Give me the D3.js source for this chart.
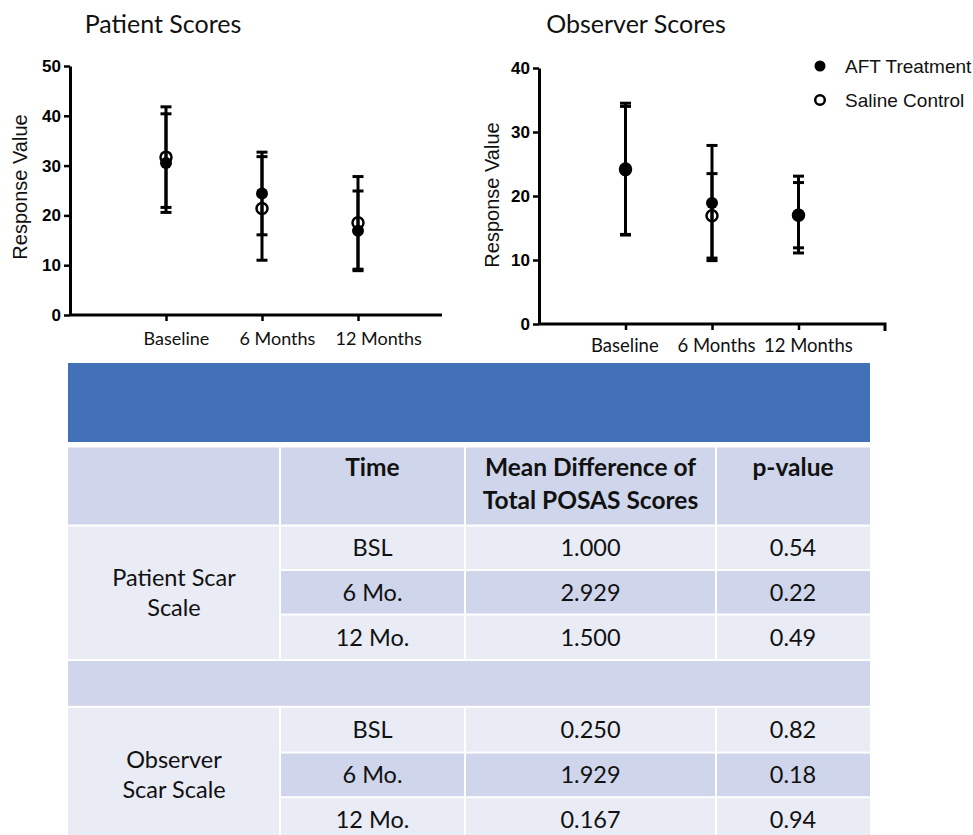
<!DOCTYPE html>
<html>
<head>
<meta charset="utf-8">
<script src="https://cdn.jsdelivr.net/npm/d3@7"></script>
<style>
  body { margin: 0; background: #fff; }
</style>
</head>
<body>
<svg id="fig" width="973" height="835"></svg>
<script>
// ---- Data ----
const timepoints = ["Baseline", "6 Months", "12 Months"];
const seriesNames = ["AFT Treatment", "Saline Control"];

const patientAftMean = [30.5, 24.4, 16.9];
const patientAftSd = [9.9, 8.3, 8.0];
const patientSalineMean = [31.7, 21.4, 18.5];
const patientSalineSd = [10.1, 10.4, 9.3];

const observerAftMean = [24.0, 18.9, 17.1];
const observerAftSd = [10.0, 9.0, 6.0];
const observerSalineMean = [24.2, 16.9, 17.0];
const observerSalineSd = [10.3, 6.6, 5.1];

const patientTicks = [0, 10, 20, 30, 40, 50];
const observerTicks = [0, 10, 20, 30, 40];

const tableHeaders = ["", "Time", "Mean Difference of\nTotal POSAS Scores", "p-value"];
const scaleGroups = ["Patient Scar\nScale", "Observer\nScar Scale"];
const timeLabels = ["BSL", "6 Mo.", "12 Mo."];
const patientMeanDiff = ["1.000", "2.929", "1.500"];
const patientPValues = ["0.54", "0.22", "0.49"];
const observerMeanDiff = ["0.250", "1.929", "0.167"];
const observerPValues = ["0.82", "0.18", "0.94"];

// ---- Setup ----
const svg = d3.select("#fig");
svg.append("rect").attr("width", 973).attr("height", 835).attr("fill", "#fff");

const LABEL_FONT = "Lato, 'Open Sans', sans-serif";
const AXIS_FONT = "'Liberation Sans', Arial, sans-serif";

function drawPanel(o) {
  const g = svg.append("g");
  const x = d3.scaleLinear().domain([0, o.xEnd]).range([o.left, o.right]);
  const y = d3.scaleLinear().domain([0, d3.max(o.ticks)]).range([o.bottom, o.top]);

  // Title
  g.append("text")
    .attr("x", o.titleX).attr("y", 33)
    .attr("text-anchor", "middle")
    .attr("font-family", LABEL_FONT).attr("font-size", 25)
    .attr("fill", "#111")
    .text(o.title);

  // Y axis
  const ya = g.append("g")
    .attr("transform", `translate(${o.left},0)`)
    .call(d3.axisLeft(y).tickValues(o.ticks).tickSize(6).tickSizeOuter(0).tickPadding(3));
  ya.select(".domain").attr("stroke", "#000").attr("stroke-width", 3);
  ya.selectAll(".tick line").attr("stroke", "#000").attr("stroke-width", 2.5);
  ya.selectAll(".tick text")
    .attr("font-family", AXIS_FONT).attr("font-weight", "bold")
    .attr("font-size", 17).attr("fill", "#000");

  // X axis
  const xa = g.append("g")
    .attr("transform", `translate(0,${o.bottom})`)
    .call(d3.axisBottom(x).tickValues(d3.range(1, timepoints.length + 1))
      .tickFormat((d, i) => timepoints[i]).tickSize(6).tickPadding(o.labelPad));
  xa.select(".domain").remove();
  xa.append("path")
    .attr("d", `M${o.left},0H${o.right}` + (o.endTick ? "V7" : ""))
    .attr("fill", "none").attr("stroke", "#000").attr("stroke-width", 3);
  xa.selectAll(".tick line").attr("stroke", "#000").attr("stroke-width", 2.5);
  xa.selectAll(".tick text")
    .attr("font-family", LABEL_FONT).attr("font-size", o.labelSize)
    .attr("text-anchor", "start")
    .attr("fill", "#111").attr("dx", o.labelDx);

  // Y axis title
  g.append("text")
    .attr("transform", `translate(${o.yTitleX},${o.yTitleY}) rotate(-90)`)
    .attr("text-anchor", "middle")
    .attr("font-family", AXIS_FONT).attr("font-size", 20)
    .attr("fill", "#111")
    .text("Response Value");

  // Error bars
  const series = o.series;
  const capHalf = 5.5;
  series.forEach(s => {
    const eb = g.append("g");
    s.mean.forEach((m, i) => {
      const cx = x(i + 1);
      eb.append("line")
        .attr("x1", cx).attr("x2", cx)
        .attr("y1", y(m - s.sd[i])).attr("y2", y(m + s.sd[i]))
        .attr("stroke", "#000").attr("stroke-width", 3);
      [m - s.sd[i], m + s.sd[i]].forEach(v => {
        eb.append("line")
          .attr("x1", cx - capHalf).attr("x2", cx + capHalf)
          .attr("y1", y(v)).attr("y2", y(v))
          .attr("stroke", "#000").attr("stroke-width", 3);
      });
    });
  });

  // Points: filled treatment, then hollow control
  series.forEach(s => {
    g.append("g").selectAll("circle")
      .data(s.mean)
      .join("circle")
      .attr("cx", (d, i) => x(i + 1))
      .attr("cy", d => y(d))
      .attr("r", s.filled ? 6 : 5.5)
      .attr("fill", s.filled ? "#000" : "none")
      .attr("stroke", "#000")
      .attr("stroke-width", s.filled ? 0 : 2.5);
  });
  return { x, y };
}

drawPanel({
  title: "Patient Scores", titleX: 163,
  left: 70, right: 442, xEnd: 3.875, endTick: false,
  top: 66, bottom: 315, ticks: patientTicks,
  labelDx: -23, labelPad: 11, labelSize: 18,
  yTitleX: 27, yTitleY: 187,
  series: [
    { mean: patientAftMean, sd: patientAftSd, filled: true },
    { mean: patientSalineMean, sd: patientSalineSd, filled: false }
  ]
});

drawPanel({
  title: "Observer Scores", titleX: 636,
  left: 539, right: 885, xEnd: 4, endTick: true,
  top: 68, bottom: 324, ticks: observerTicks,
  labelDx: -35, labelPad: 9, labelSize: 18.5,
  yTitleX: 499, yTitleY: 195,
  series: [
    { mean: observerAftMean, sd: observerAftSd, filled: true },
    { mean: observerSalineMean, sd: observerSalineSd, filled: false }
  ]
});

// Legend
const legend = svg.append("g").attr("transform", "translate(820,66)");
seriesNames.forEach((name, i) => {
  const row = legend.append("g").attr("transform", `translate(0,${i * 34})`);
  row.append("circle")
    .attr("r", i === 0 ? 5.5 : 4.8)
    .attr("fill", i === 0 ? "#000" : "none")
    .attr("stroke", "#000").attr("stroke-width", i === 0 ? 0 : 2.5);
  row.append("text")
    .attr("x", 25).attr("y", 6.5)
    .attr("font-family", AXIS_FONT).attr("font-size", 19)
    .attr("fill", "#111")
    .text(name);
});

// ---- Table ----
const BLUE = "#4371B8", DARK = "#CFD5EA", LIGHT = "#E9EBF5";
const cols = [68, 280, 465, 716, 870];
const rowEdges = [525.5, 570, 614.5, 660, 706.8, 752.5, 797.2, 842];
const TFS = 23.5;
const HFS = 24.5;
const table = svg.append("g");

function cellRect(c0, c1, r0, r1, fill) {
  const xL = c0 === 0 ? cols[0] : cols[c0] + 1;
  const xR = c1 === cols.length - 1 ? cols[c1] : cols[c1] - 1;
  table.append("rect")
    .attr("x", xL).attr("y", r0).attr("width", xR - xL).attr("height", r1 - r0)
    .attr("fill", fill);
}
function cellText(cx, cy, txt, lineGap) {
  const lines = txt.split("\n");
  const t = table.append("text")
    .attr("text-anchor", "middle")
    .attr("font-family", LABEL_FONT).attr("font-size", TFS)
    .attr("fill", "#111");
  const first = cy + TFS * 0.36 - (lines.length - 1) * lineGap / 2;
  lines.forEach((ln, i) => {
    t.append("tspan").attr("x", cx).attr("y", first + i * lineGap).text(ln);
  });
}
const colMid = i => (cols[i] + cols[i + 1]) / 2;

// Banner
table.append("rect")
  .attr("x", cols[0]).attr("y", 363).attr("width", cols[4] - cols[0]).attr("height", 79)
  .attr("fill", BLUE);

// Header row
tableHeaders.forEach((h, i) => {
  cellRect(i, i + 1, 447.5, 524.5, DARK);
  if (h) {
    const t = table.append("text")
      .attr("text-anchor", "middle")
      .attr("font-family", LABEL_FONT).attr("font-size", HFS)
      .attr("font-weight", "bold").attr("fill", "#111");
    h.split("\n").forEach((ln, j) => {
      t.append("tspan").attr("x", colMid(i)).attr("y", 476 + j * 33).text(ln);
    });
  }
});

// Body groups
const groups = [
  { label: scaleGroups[0], diff: patientMeanDiff, p: patientPValues, start: 0 },
  { label: scaleGroups[1], diff: observerMeanDiff, p: observerPValues, start: 4 }
];
groups.forEach(gp => {
  const r0 = rowEdges[gp.start] + 1;
  const r1 = rowEdges[gp.start + timeLabels.length] - 1;
  cellRect(0, 1, r0, r1, LIGHT);
  cellText(colMid(0), (r0 + r1) / 2, gp.label, 30);
  timeLabels.forEach((tl, k) => {
    const ya = rowEdges[gp.start + k] + 1;
    const yb = rowEdges[gp.start + k + 1] - 1;
    const fill = k === 1 ? DARK : LIGHT;
    [tl, gp.diff[k], gp.p[k]].forEach((v, c) => {
      cellRect(c + 1, c + 2, ya, yb, fill);
      cellText(colMid(c + 1), (ya + yb) / 2, v, 0);
    });
  });
});

// Separator row between the two scales
table.append("rect")
  .attr("x", cols[0]).attr("y", rowEdges[3] + 1)
  .attr("width", cols[4] - cols[0]).attr("height", rowEdges[4] - rowEdges[3] - 2)
  .attr("fill", DARK);
</script>
</body>
</html>
